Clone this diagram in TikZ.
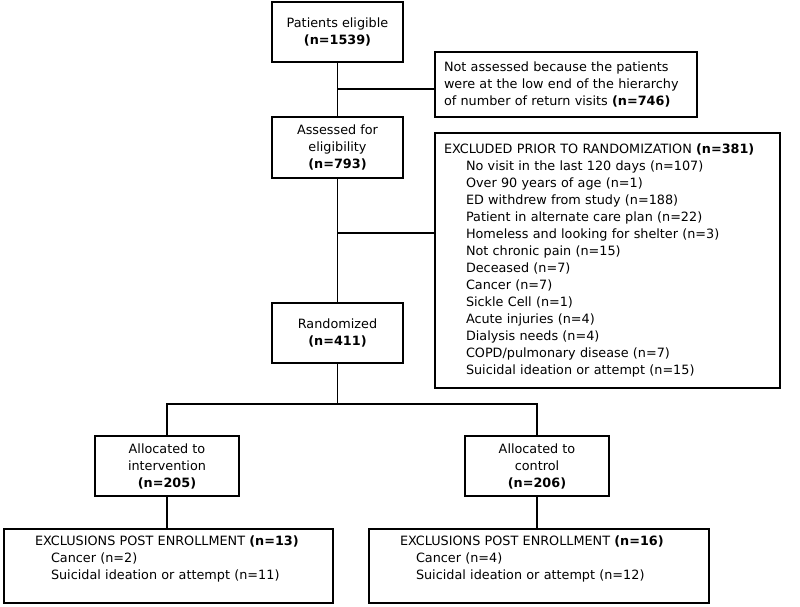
\documentclass[tikz,border=0pt]{standalone}
\usepackage{fontspec}
\setmainfont{DejaVu Sans}
\begin{document}
\begin{tikzpicture}[x=1pt,y=-1pt,
  box/.style={draw=black, line width=1.1pt, rectangle, inner ysep=2pt, font=\fontsize{12.8}{17}\selectfont},
  cbox/.style={box, align=center},
  lbox/.style={box, align=left},
  conn/.style={draw=black, line width=1.8pt}]
\useasboundingbox (0,0) rectangle (800,606);
\node[cbox, minimum width=131pt, minimum height=60pt, inner xsep=0pt] (b1) at (337.5,32) {Patients eligible\\\textbf{(n=1539)}};
\node[lbox, inner xsep=9pt, text width=244pt, minimum height=65pt] (b2) at (566,84.5) {Not assessed because the patients were at the low end of the hierarchy of number of return visits \textbf{(n=746)}};
\node[cbox, minimum width=131pt, minimum height=61pt, inner xsep=0pt] (b3) at (337.5,147.5) {Assessed for\\eligibility\\\textbf{(n=793)}};
\node[lbox, inner xsep=9pt, text width=327pt, minimum height=255pt] (b4) at (607.5,260.5) {EXCLUDED PRIOR TO RANDOMIZATION \textbf{(n=381)}\\
\hspace*{22pt}No visit in the last 120 days (n=107)\\
\hspace*{22pt}Over 90 years of age (n=1)\\
\hspace*{22pt}ED withdrew from study (n=188)\\
\hspace*{22pt}Patient in alternate care plan (n=22)\\
\hspace*{22pt}Homeless and looking for shelter (n=3)\\
\hspace*{22pt}Not chronic pain (n=15)\\
\hspace*{22pt}Deceased (n=7)\\
\hspace*{22pt}Cancer (n=7)\\
\hspace*{22pt}Sickle Cell (n=1)\\
\hspace*{22pt}Acute injuries (n=4)\\
\hspace*{22pt}Dialysis needs (n=4)\\
\hspace*{22pt}COPD/pulmonary disease (n=7)\\
\hspace*{22pt}Suicidal ideation or attempt (n=15)};
\node[cbox, minimum width=131pt, minimum height=60pt, inner xsep=0pt] (b5) at (337.5,333) {Randomized\\\textbf{(n=411)}};
\node[cbox, minimum width=144pt, minimum height=60pt, inner xsep=0pt] (b6) at (167,466) {Allocated to\\intervention\\\textbf{(n=205)}};
\node[cbox, minimum width=144pt, minimum height=60pt, inner xsep=0pt] (b7) at (537,466) {Allocated to\\control\\\textbf{(n=206)}};
\node[lbox, inner xsep=31pt, text width=267pt, minimum height=74pt] (b8) at (168.5,566) {EXCLUSIONS POST ENROLLMENT \textbf{(n=13)}\\
\hspace*{16pt}Cancer (n=2)\\
\hspace*{16pt}Suicidal ideation or attempt (n=11)\\ \mbox{}};
\node[lbox, inner xsep=31pt, text width=278pt, minimum height=74pt] (b9) at (539,566) {EXCLUSIONS POST ENROLLMENT \textbf{(n=16)}\\
\hspace*{16pt}Cancer (n=4)\\
\hspace*{16pt}Suicidal ideation or attempt (n=12)\\ \mbox{}};
\coordinate (j1) at (337.5,89);
\coordinate (j2) at (337.5,233);
\coordinate (sp) at (337.5,404);
\draw[conn] (b1.south) -- (b3.north);
\draw[conn] (j1) -- (j1 -| b2.west);
\draw[conn] (b3.south) -- (b5.north);
\draw[conn] (j2) -- (j2 -| b4.west);
\draw[conn] (b5.south) -- (sp);
\draw[conn] (b6.north) -- (b6.north |- sp) -- (b7.north |- sp) -- (b7.north);
\draw[conn] (b6.south) -- (b6.south |- b8.north);
\draw[conn] (b7.south) -- (b7.south |- b9.north);
\end{tikzpicture}
\end{document}
